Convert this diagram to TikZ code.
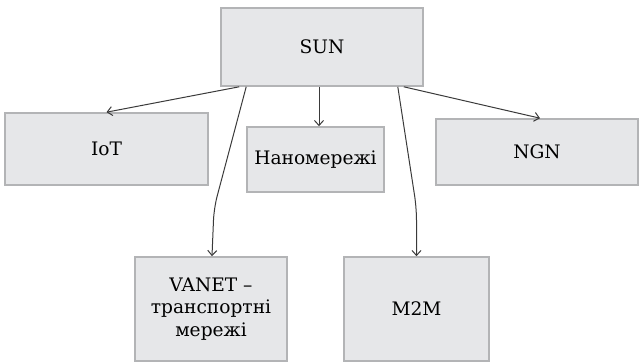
\documentclass[tikz,border=0pt]{standalone}
\usepackage{fontspec}
\setmainfont{DejaVu Serif}
\usetikzlibrary{arrows.meta,calc}
\definecolor{boxfill}{HTML}{E6E7E9}
\definecolor{boxline}{HTML}{B3B4B6}
\definecolor{arrowc}{HTML}{3A3A3A}
\tikzset{
  blk/.style={draw=boxline, fill=boxfill, line width=1.6pt, inner sep=0pt, align=center,
    font=\fontsize{18.6}{22.5}\selectfont, text=black},
  conn/.style={draw=arrowc, line width=1pt, -{Straight Barb[length=5pt,width=9pt]}}
}
\begin{document}
\begin{tikzpicture}[x=1pt,y=-1pt]
\useasboundingbox (0,0) rectangle (641,363);
\node[blk, minimum width=202pt, minimum height=78pt] (sun) at (322,47) {SUN};
\node[blk, minimum width=203pt, minimum height=72pt] (iot) at (106.5,149) {IoT};
\node[blk, minimum width=137pt, minimum height=65pt] (nano) at (315.5,159.5) {Наномережі};
\node[blk, minimum width=202pt, minimum height=66pt] (ngn) at (537,152) {NGN};
\node[blk, minimum width=152pt, minimum height=104pt] (vanet) at (211,309) {VANET –\\транспортні\\мережі};
\node[blk, minimum width=145pt, minimum height=104pt] (m2m) at (416.5,309) {M2M};
\coordinate (vbend) at (214,208);
\coordinate (mbend) at (416.5,208);
\draw[conn] ([xshift=19pt]sun.south west) -- (iot.north);
\draw[conn, rounded corners=12pt] ([xshift=26pt]sun.south west) -- (vbend) -- ([xshift=1pt]vanet.north);
\draw[conn] ([xshift=-3pt]sun.south) -- ([xshift=-3pt]sun.south |- nano.north);
\draw[conn, rounded corners=12pt] ([xshift=-26pt]sun.south east) -- (mbend) -- (m2m.north);
\draw[conn] ([xshift=-20pt]sun.south east) -- ([xshift=3pt]ngn.north);
\end{tikzpicture}
\end{document}
